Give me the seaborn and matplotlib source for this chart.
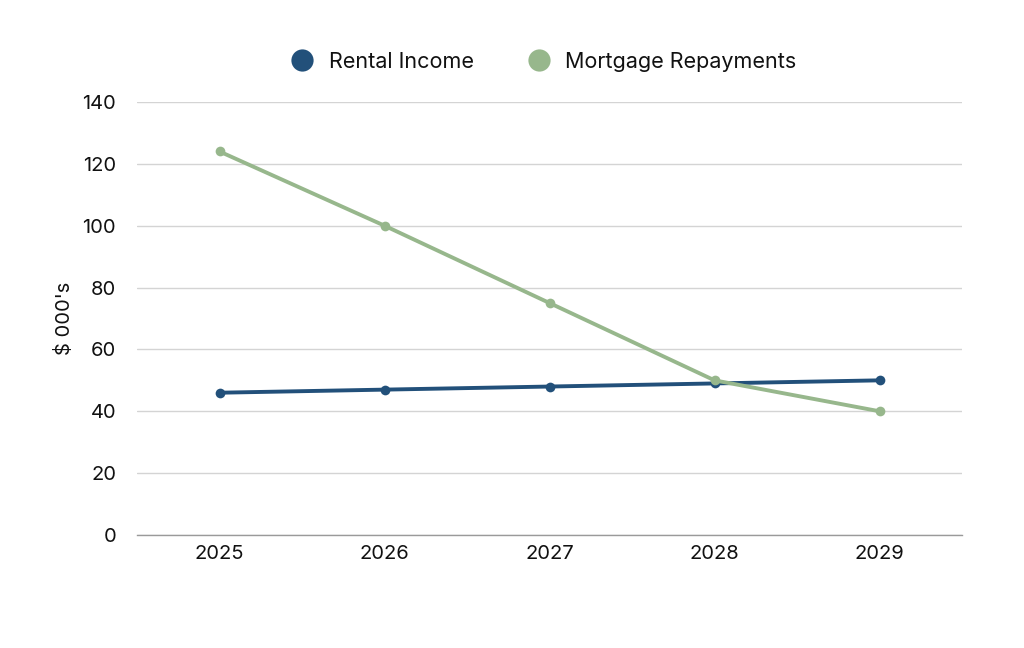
import matplotlib
matplotlib.use("Agg")
import matplotlib.pyplot as plt
from matplotlib.lines import Line2D
import seaborn as sns
import pandas as pd

years = ["2025", "2026", "2027", "2028", "2029"]
rental_income = [46, 47, 48, 49, 50]
mortgage_repayments = [124, 100, 75, 50, 40]
series_names = ["Rental Income", "Mortgage Repayments"]
colors = ["#22507A", "#97B78C"]
y_ticks = [0, 20, 40, 60, 80, 100, 120, 140]

df = pd.DataFrame({
    "Year": years * 2,
    "Value": rental_income + mortgage_repayments,
    "Series": [series_names[0]] * len(years) + [series_names[1]] * len(years),
})

sns.set_theme(style="white")
plt.rcParams["font.family"] = ["Inter", "DejaVu Sans"]
plt.rcParams["text.color"] = "#111111"

fig = plt.figure(figsize=(10.24, 6.48), dpi=100)
ax = fig.add_axes([0.1338, 0.1744, 0.8057, 0.6682])

sns.lineplot(data=df, x="Year", y="Value", hue="Series", palette=colors,
             marker="o", markersize=7, markeredgewidth=0, linewidth=2.8,
             sort=False, ax=ax, legend=False)

ax.set_xlim(-0.5, len(years) - 0.5)
ax.set_ylim(0, 140)
ax.set_yticks(y_ticks)
ax.yaxis.grid(True, color="#d4d4d4", linewidth=1)
ax.set_axisbelow(True)
for s in ["top", "right", "left"]:
    ax.spines[s].set_visible(False)
ax.spines["bottom"].set_color("#9a9a9a")
ax.spines["bottom"].set_linewidth(1)
ax.tick_params(axis="both", length=0, labelsize=14.5, colors="#111111", pad=7)
ax.tick_params(axis="y", pad=15)
ax.set_xlabel("")
ax.set_ylabel("$ 000's", fontsize=14.5, color="#111111", labelpad=6)

handles = [Line2D([0], [0], marker="o", color="none", markerfacecolor=c,
                  markeredgewidth=0, markersize=16) for c in colors]
fig.legend(handles, series_names, loc="center", bbox_to_anchor=(0.526, 0.905),
           ncol=2, frameon=False, fontsize=15.5, handletextpad=0.25,
           columnspacing=2.0, labelcolor="#111111")

fig.savefig("out.png", dpi=100)
